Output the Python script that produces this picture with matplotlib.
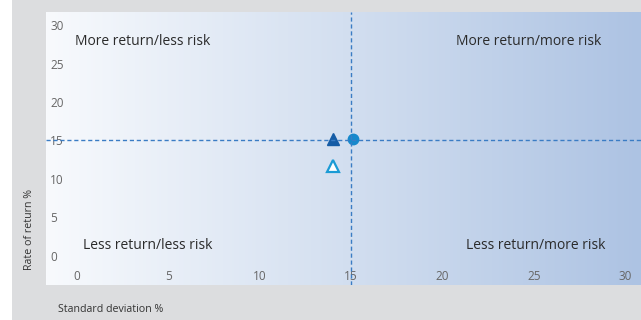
import numpy as np
import matplotlib
matplotlib.use("Agg")
import matplotlib.pyplot as plt
from matplotlib.colors import LinearSegmentedColormap
from matplotlib.patches import Rectangle

# data
x_ticks = [0, 5, 10, 15, 20, 25, 30]
y_ticks = [0, 5, 10, 15, 20, 25, 30]
ref_x = 15
ref_y = 15
circle_pt = (15.1, 15.2)
filled_tri = (14.0, 15.2)
hollow_tri = (14.0, 11.7)
quadrants = ["More return/less risk", "More return/more risk",
             "Less return/less risk", "Less return/more risk"]
quad_x = [-0.1, 24.7, 0.35, 25.1]
quad_y = [27.8, 27.8, 1.3, 1.3]
quad_ha = ["left", "center", "left", "center"]

plt.rcParams['font.family'] = ['Open Sans', 'DejaVu Sans']

fig = plt.figure(figsize=(6.41, 3.2), dpi=100)
fig.patch.set_facecolor('white')
# grey panel behind the chart
fig.patches.append(Rectangle((12/641, 0), 1 - 12/641, 1, transform=fig.transFigure,
                             facecolor='#dcdddf', edgecolor='none', zorder=-10))

ax = fig.add_axes([46/641, 35/320, (641-46)/641, 273/320])
xlim = (-1.7, 30.87)
ylim = (-3.8, 31.7)

# gradient background
cmap = LinearSegmentedColormap.from_list('bg', ['#f8fafd', '#d3dff0', '#adc3e3'])
grad = np.linspace(0, 1, 256).reshape(1, -1)
ax.imshow(grad, cmap=cmap, aspect='auto', extent=[xlim[0], xlim[1], ylim[0], ylim[1]],
          zorder=0)
ax.set_xlim(xlim)
ax.set_ylim(ylim)

line_col = '#3a7cc4'
ax.plot(*filled_tri, marker='^', ms=8, color='#155ca6', ls='none', zorder=3)
ax.plot(*circle_pt, marker='o', ms=7.5, color='#1789cc', ls='none', zorder=3)
ax.plot(*hollow_tri, marker='^', ms=8, mfc='white', mec='#1a9bd5', mew=1.6,
        ls='none', zorder=3)
ax.axhline(ref_y, color=line_col, lw=1.0, ls=(0, (3, 2)), zorder=4)
ax.axvline(ref_x, color=line_col, lw=1.0, ls=(0, (3, 2)), zorder=4)

for t, x, y, ha in zip(quadrants, quad_x, quad_y, quad_ha):
    ax.text(x, y, t, ha=ha, va='center', fontsize=10, color='#2b2b2b', zorder=5)

for s in ax.spines.values():
    s.set_visible(False)

ax.set_xticks(x_ticks)
ax.set_yticks(y_ticks)
ax.tick_params(axis='x', length=0, pad=-11, labelsize=8.5, labelcolor='#666666')
ax.tick_params(axis='y', length=0, pad=-3, labelsize=8.5, labelcolor='#666666')
for lab in ax.get_yticklabels():
    lab.set_horizontalalignment('left')

fig.text(30/641, 1 - 229/320, 'Rate of return %', rotation=90, ha='center', va='center',
         fontsize=7.7, color='#333333')
fig.text(58/641, 1 - 309/320, 'Standard deviation %', ha='left', va='center',
         fontsize=7.7, color='#333333')

fig.savefig('out.png', dpi=100)
